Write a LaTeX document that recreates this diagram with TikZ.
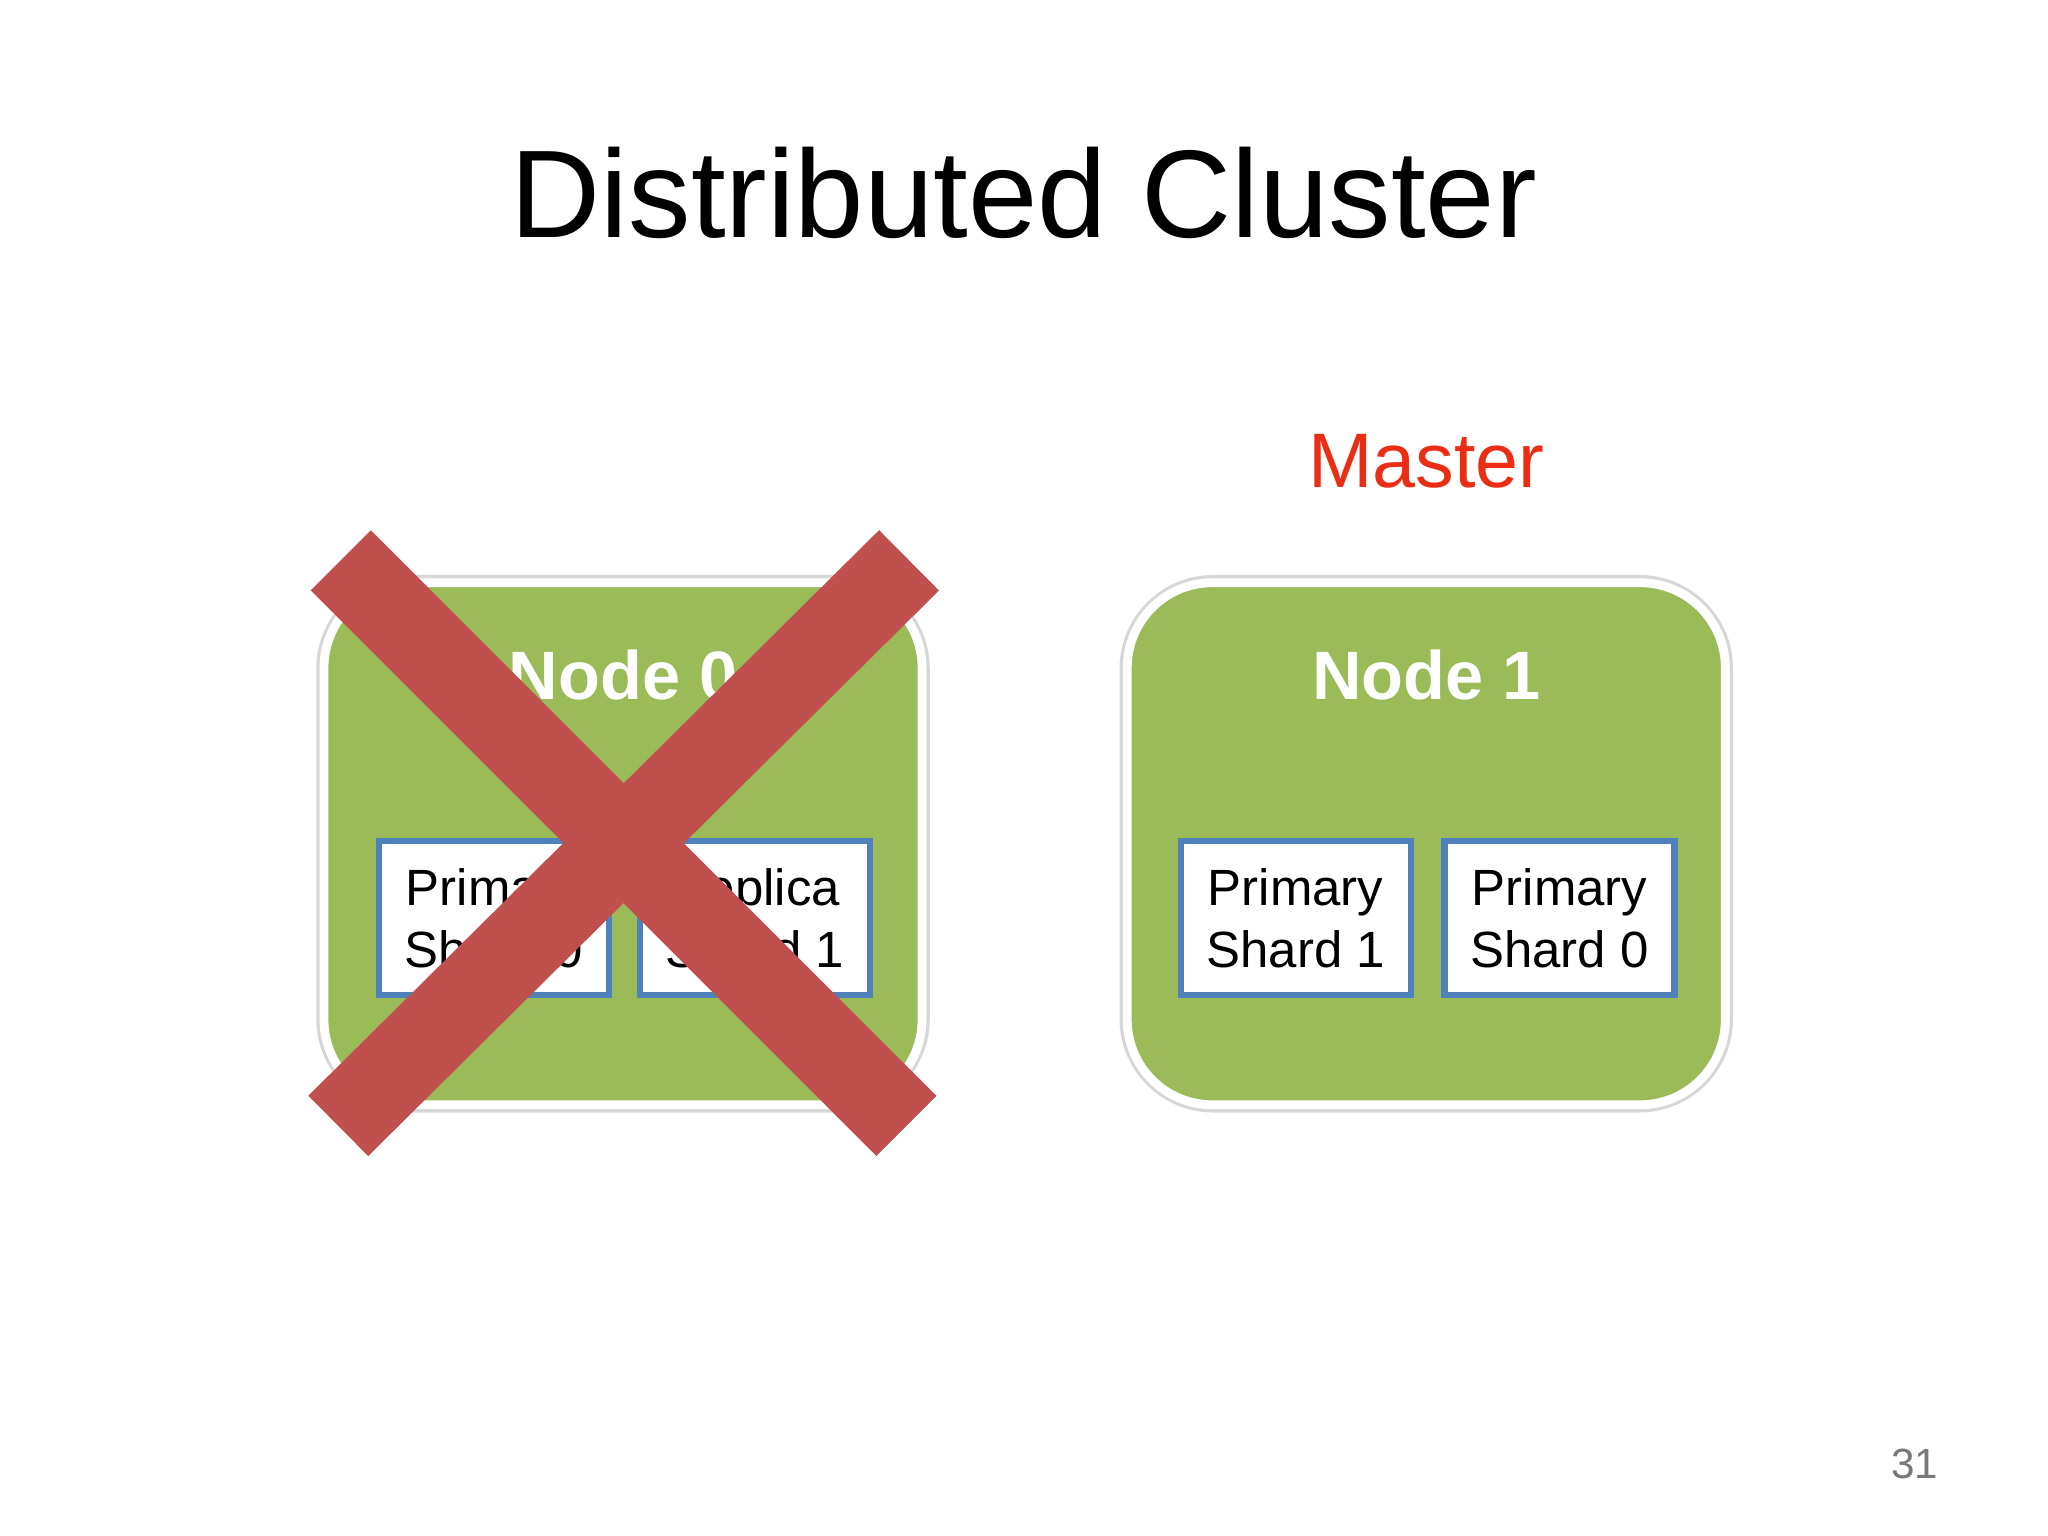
\documentclass[tikz,border=0pt]{standalone}
\usepackage{fontspec}
\setmainfont{Liberation Sans}
\begin{document}
\begin{tikzpicture}[x=0.01306cm,y=-0.01306cm,
  cnode/.style={draw=white,line width=2.5pt,fill={rgb,255:red,155;green,187;blue,89},rounded corners=0.85cm,minimum width=5.98cm,minimum height=5.22cm,inner sep=0pt},
  shell/.style={draw={rgb,255:red,215;green,215;blue,215},line width=1pt,rounded corners=0.92cm,minimum width=6.1cm,minimum height=5.34cm},
  shard/.style={draw={rgb,255:red,79;green,129;blue,189},line width=1.8pt,fill=white,minimum width=2.3cm,minimum height=1.54cm,align=center,font=\fontsize{14.5}{17.5}\selectfont,inner sep=0pt},
  lbl/.style={text=white,font=\bfseries\fontsize{19.5}{23}\selectfont},
  cross/.style={line width=0.85cm,draw={rgb,255:red,192;green,80;blue,77},line cap=butt}]
\fill[white] (0,0) rectangle (1568,1176);
\useasboundingbox (0,0) rectangle (1568,1176);
\node (title) at (784,148) {\fontsize{35.5}{42}\selectfont Distributed Cluster};
\node[text={rgb,255:red,235;green,45;blue,20},font=\fontsize{22}{26}\selectfont] (master) at (1092,353) {Master};
\node[shell] (s0) at (477,646) {};
\node[cnode] (n0) at (477,646) {};
\node[shell] (s1) at (1092,646) {};
\node[cnode] (n1) at (1092,646) {};
\node[lbl] (l0) at (477,517) {Node 0};
\node[lbl] (l1) at (1092,517) {Node 1};
\node[shard] (a) at (378,703) {Primary\\Shard 0};
\node[shard] (b) at (578,703) {Replica\\Shard 1};
\node[shard] (c) at (992,703) {Primary\\Shard 1};
\node[shard] (d) at (1194,703) {Primary\\Shard 0};
\coordinate (x1) at (261,429);
\coordinate (x2) at (694,862);
\coordinate (x3) at (696,429);
\coordinate (x4) at (259,862);
\draw[cross] (x1) -- (x2);
\draw[cross] (x3) -- (x4);
\node[text={rgb,255:red,120;green,120;blue,120},font=\fontsize{12}{14}\selectfont] (pg) at (1466,1121) {31};
\end{tikzpicture}
\end{document}
